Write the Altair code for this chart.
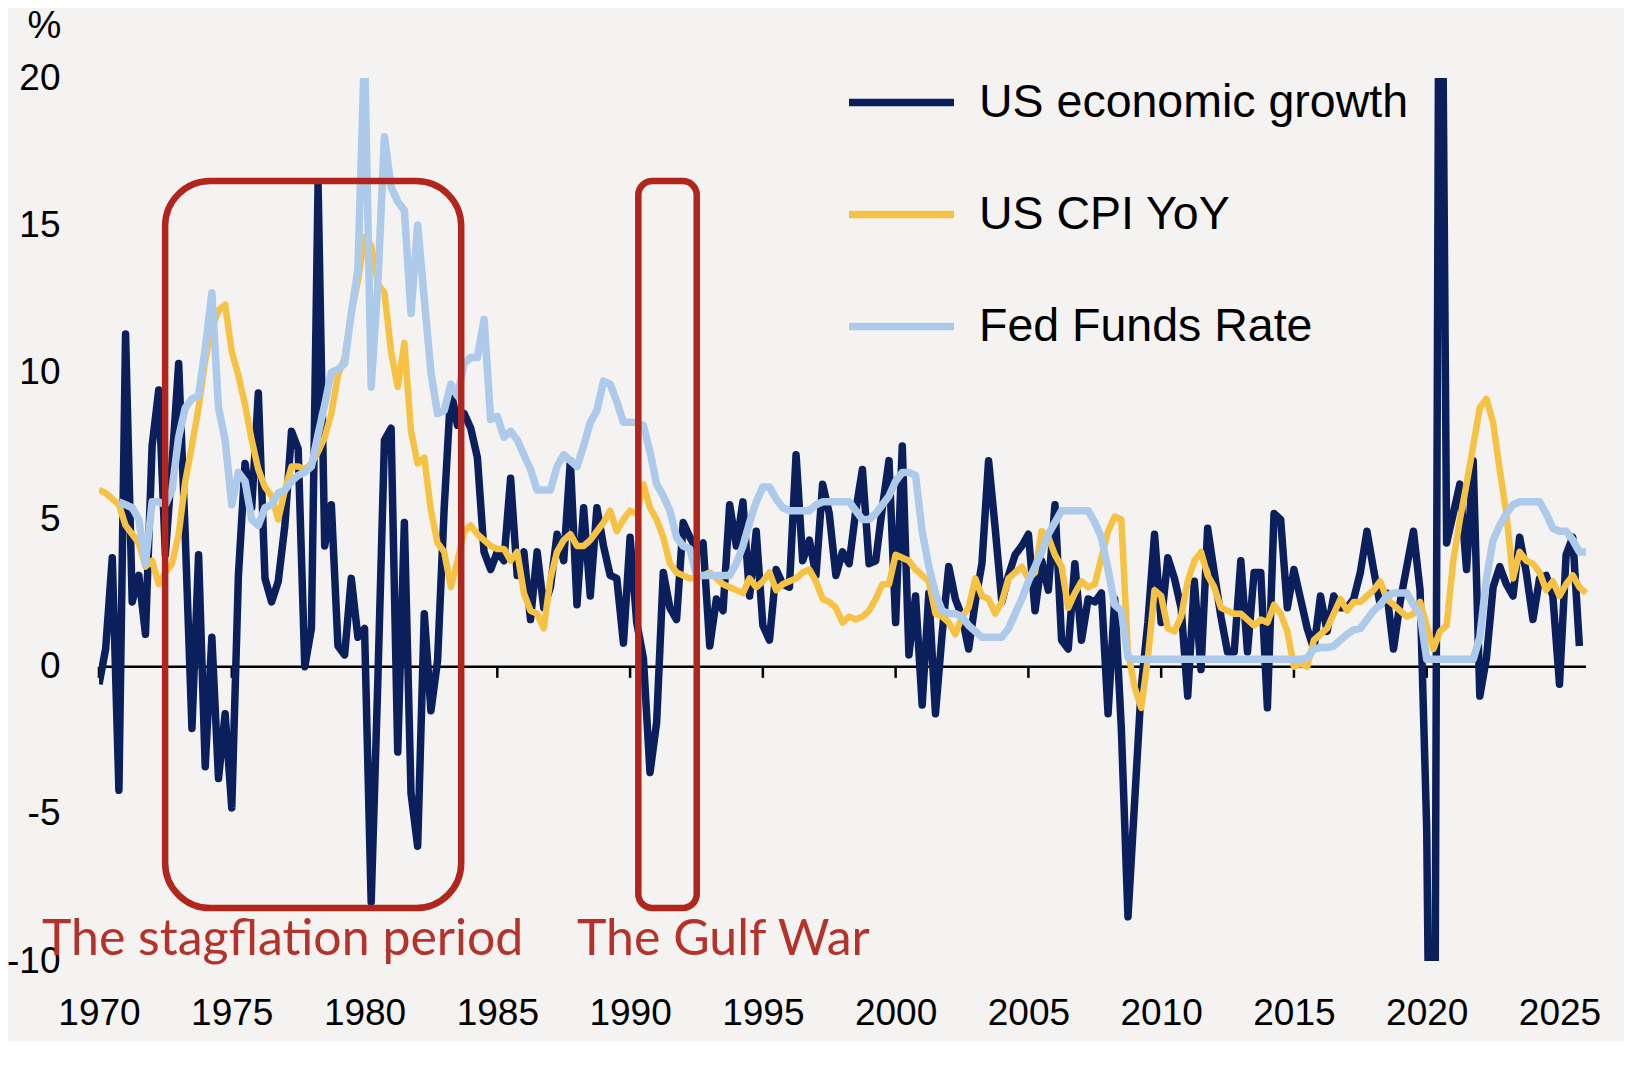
import altair as alt
import pandas as pd

SERIES = ["US economic growth", "US CPI YoY", "Fed Funds Rate"]
COLORS = ["#0B1F5C", "#F5C243", "#ADCAEA"]
START_YEAR = 1970

# Quarterly values, 1970Q1 onward (annualised real GDP growth, %)
growth = [
    -0.6, 0.6, 3.7, -4.2,
    11.3, 2.2, 3.1, 1.1,
    7.5, 9.4, 3.8, 6.9,
    10.3, 4.4, -2.1, 3.8,
    -3.4, 1.0, -3.8, -1.6,
    -4.8, 3.1, 6.9, 5.4,
    9.3, 3.0, 2.2, 2.9,
    4.8, 8.0, 7.4, 0.0,
    1.3, 16.4, 4.1, 5.5,
    0.7, 0.4, 3.0, 1.0,
    1.3, -8.0, -0.5, 7.7,
    8.1, -2.9, 4.9, -4.3,
    -6.1, 1.8, -1.5, 0.2,
    5.4, 9.4, 8.2, 8.6,
    8.1, 7.1, 3.9, 3.3,
    3.9, 3.6, 6.4, 3.1,
    3.9, 1.6, 3.9, 2.0,
    2.7, 4.5, 3.6, 7.0,
    2.1, 5.4, 2.4, 5.4,
    4.1, 3.1, 3.0, 0.8,
    4.4, 1.5, 0.3, -3.6,
    -1.9, 3.2, 2.0, 1.6,
    4.9, 4.4, 4.0, 4.2,
    0.7, 2.3, 1.9, 5.5,
    4.1, 5.6, 2.4, 4.6,
    1.4, 0.9, 3.3, 2.8,
    2.7, 7.2, 3.6, 4.3,
    3.1, 6.2, 5.2, 3.1,
    3.9, 3.5, 5.3, 6.7,
    3.5, 3.6, 5.4, 7.0,
    1.5, 7.5, 0.4, 2.4,
    -1.3, 2.5, -1.6, 1.1,
    3.4, 2.3, 1.7, 0.6,
    2.2, 3.5, 7.0, 4.7,
    2.2, 3.1, 3.8, 4.1,
    4.5, 1.9, 3.6, 2.6,
    5.5, 0.9, 0.6, 3.5,
    0.9, 2.3, 2.2, 2.5,
    -1.6, 2.3, -2.1, -8.5,
    -4.6, -0.7, 1.5, 4.5,
    1.5, 3.7, 3.0, 2.0,
    -1.0, 2.9, -0.1, 4.7,
    3.2, 1.7, 0.5, 0.5,
    3.6, 0.5, 3.2, 3.2,
    -1.4, 5.2, 5.0, 2.0,
    3.3, 2.3, 1.3, 0.6,
    2.4, 1.2, 2.4, 2.0,
    2.0, 2.3, 3.2, 4.6,
    3.3, 2.1, 2.5, 0.6,
    2.2, 3.4, 4.6, 2.6,
    -5.5, -28.0, 34.8, 4.2,
    5.2, 6.2, 3.3, 7.0,
    -1.0, 0.3, 2.7, 3.4,
    2.8, 2.4, 4.4, 3.2,
    1.6, 3.0, 3.1, 2.4,
    -0.6, 3.8, 4.4, 0.7,
]

# CPI YoY (%), 1970Q1 onward
cpi = [
    6.0, 5.9, 5.7, 5.5,
    4.8, 4.5, 4.2, 3.4,
    3.6, 2.8, 3.2, 3.5,
    4.5, 6.3, 7.5, 8.8,
    10.4, 11.5, 12.1, 12.3,
    10.7, 9.9, 8.9, 7.7,
    6.7, 6.1, 5.8, 5.0,
    6.0, 6.8, 6.8, 6.7,
    6.9, 7.3, 7.8, 8.6,
    9.9, 10.5, 12.0, 13.1,
    14.6, 14.3, 13.0, 12.7,
    10.7, 9.5, 11.0, 8.0,
    6.9, 7.1, 5.3, 4.2,
    3.9, 2.7, 3.6, 4.6,
    4.8, 4.5, 4.3, 4.1,
    4.0, 4.0, 3.6, 3.9,
    2.5, 1.9, 1.8, 1.3,
    3.0, 3.9, 4.3, 4.5,
    4.1, 4.1, 4.3, 4.6,
    4.9, 5.3, 4.6, 5.0,
    5.3, 5.2, 6.2, 5.4,
    5.0, 4.4, 3.5, 3.2,
    3.1, 3.0, 3.0, 3.1,
    3.2, 3.0, 2.8, 2.7,
    2.6, 2.5, 3.0, 2.7,
    2.9, 3.2, 2.6, 2.8,
    2.9, 3.0, 3.2, 3.3,
    2.9, 2.3, 2.2, 2.0,
    1.5, 1.7, 1.6, 1.7,
    1.9, 2.3, 2.8, 2.8,
    3.8, 3.7, 3.6, 3.3,
    3.1, 2.9, 1.8, 1.7,
    1.5, 1.1, 1.7, 2.0,
    3.0, 2.4, 2.3, 1.8,
    2.2, 3.0, 3.2, 3.4,
    3.0, 3.2, 4.6, 4.4,
    3.8, 3.4, 2.0, 2.5,
    2.9, 2.7, 2.8, 3.7,
    4.6, 5.1, 5.0, 0.5,
    -0.7, -1.4, 0.3, 2.6,
    2.4, 1.3, 1.2, 1.7,
    2.9, 3.6, 3.9, 3.1,
    2.7, 2.0, 1.9, 1.8,
    1.8, 1.6, 1.4, 1.6,
    1.5, 2.1, 1.8, 1.2,
    0.0, 0.1, 0.0, 0.9,
    1.1, 1.3, 1.8, 2.3,
    1.9, 2.2, 2.2, 2.4,
    2.6, 2.9, 2.3, 2.1,
    1.9, 1.7, 1.8, 2.2,
    1.4, 0.6, 1.2, 1.4,
    3.6, 5.0, 6.2, 7.5,
    8.8, 9.1, 8.3, 6.7,
    5.2, 3.0, 3.9, 3.6,
    3.5, 3.2, 2.6, 2.9,
    2.4, 2.8, 3.1, 2.7,
    2.5,
]

# Fed funds rate (%), starting 1970Q4
FED_FIRST_QUARTER = 3
fed = [
    5.6,
    5.5, 5.4, 5.0, 3.5,
    5.6, 5.6, 5.5, 6.0,
    7.8, 8.8, 9.1, 9.2,
    10.8, 12.7, 8.8, 7.7,
    5.5, 6.6, 6.3, 5.0,
    4.8, 5.4, 5.5, 5.9,
    6.0, 6.3, 6.5, 6.6,
    6.8, 7.9, 8.9, 10.0,
    10.1, 10.3, 12.0, 13.5,
    21.0, 9.5, 13.0, 18.0,
    16.3, 15.8, 15.5, 12.0,
    15.0, 12.5, 10.0, 8.6,
    8.7, 9.6, 9.2, 10.3,
    10.5, 10.5, 11.8, 8.4,
    8.5, 7.8, 8.0, 7.7,
    7.2, 6.7, 6.0, 6.0,
    6.0, 6.8, 7.2, 7.0,
    6.8, 7.5, 8.3, 8.7,
    9.7, 9.6, 9.0, 8.3,
    8.3, 8.3, 8.2, 7.3,
    6.2, 5.8, 5.3, 4.4,
    4.1, 4.0, 3.1, 3.1,
    3.1, 3.1, 3.1, 3.1,
    3.5, 4.1, 4.9, 5.6,
    6.1, 6.1, 5.7, 5.4,
    5.3, 5.3, 5.3, 5.3,
    5.5, 5.6, 5.6, 5.6,
    5.6, 5.6, 5.3, 5.0,
    5.0, 5.2, 5.5, 5.8,
    6.3, 6.6, 6.6, 6.5,
    4.6, 3.4, 2.5, 1.9,
    1.8, 1.8, 1.7, 1.4,
    1.2, 1.0, 1.0, 1.0,
    1.0, 1.3, 1.8, 2.3,
    2.9, 3.4, 3.9, 4.5,
    4.9, 5.3, 5.3, 5.3,
    5.3, 5.3, 4.9, 4.4,
    3.3, 2.1, 1.9, 0.3,
    0.25, 0.25, 0.25, 0.25,
    0.25, 0.25, 0.25, 0.25,
    0.25, 0.25, 0.25, 0.25,
    0.25, 0.25, 0.25, 0.25,
    0.25, 0.25, 0.25, 0.25,
    0.25, 0.25, 0.25, 0.25,
    0.25, 0.25, 0.3, 0.6,
    0.65, 0.65, 0.7, 0.9,
    1.1, 1.25, 1.3, 1.6,
    1.9, 2.1, 2.4, 2.5,
    2.5, 2.5, 2.1, 1.8,
    0.25, 0.25, 0.25, 0.25,
    0.25, 0.25, 0.25, 0.25,
    1.0, 3.0, 4.3, 4.8,
    5.2, 5.5, 5.6, 5.6,
    5.6, 5.6, 5.2, 4.7,
    4.6, 4.6, 4.3, 3.9,
    3.9,
]

Y_TICKS = [-10, -5, 0, 5, 10, 15, 20]
X_TICKS = [1970, 1975, 1980, 1985, 1990, 1995, 2000, 2005, 2010, 2015, 2020, 2025]

BOX_NAMES = ["The stagflation period", "The Gulf War"]
BOX_X1 = [1972.49, 1990.31]
BOX_X2 = [1983.64, 1992.51]
BOX_Y1 = [16.5, 16.5]
BOX_Y2 = [-8.2, -8.2]

NOTE_X = [1967.85, 1988.0]
NOTE_Y = [-9.8, -9.8]


def quarterly(values, name, first=0):
    rows = []
    for i, v in enumerate(values):
        rows.append({"t": START_YEAR + (first + i) / 4, "value": v, "series": name})
    return pd.DataFrame(rows)


df_growth = quarterly(growth, SERIES[0])
df_cpi = quarterly(cpi, SERIES[1])
df_fed = quarterly(fed, SERIES[2], FED_FIRST_QUARTER)

df_ticks = pd.DataFrame({"t": X_TICKS, "value": [0] * len(X_TICKS), "v2": [-0.38] * len(X_TICKS)})
df_zero = pd.DataFrame({"t": [1970.0], "t2": [2026.0], "value": [0]})
df_boxes = pd.DataFrame({"name": BOX_NAMES, "t": BOX_X1, "t2": BOX_X2, "value": BOX_Y1, "v2": BOX_Y2})
df_notes = pd.DataFrame({"name": BOX_NAMES, "t": NOTE_X, "value": NOTE_Y})

AXIS_FONT = "Liberation Sans"
RED = "#B0261C"

x_scale = alt.Scale(domain=[1970, 2026.3], nice=False, zero=False)
y_scale = alt.Scale(domain=[-10, 20], nice=False, zero=False)
color_scale = alt.Scale(domain=SERIES, range=COLORS)

x_axis = alt.Axis(
    values=X_TICKS, format="d", domain=False, ticks=False, tickSize=0, grid=False,
    labelFont=AXIS_FONT, labelFontSize=37, labelColor="black", labelPadding=34,
    labelFlush=False, labelOverlap=False, title="",
)
y_axis = alt.Axis(
    values=Y_TICKS, labelExpr="'' + datum.value", domain=False, ticks=False, tickSize=0,
    grid=False, labelFont=AXIS_FONT, labelFontSize=37, labelColor="black", labelPadding=39,
    title="%", titleAngle=0, titleX=-55, titleY=-52, titleFont=AXIS_FONT, titleFontSize=38,
    titleFontWeight="normal", titleColor="black", titleAlign="center", titleBaseline="middle",
)
legend = alt.Legend(
    orient="none", legendX=746, legendY=-32, title=None, symbolType="stroke",
    symbolSize=11025, symbolStrokeWidth=7.5, labelFont=AXIS_FONT, labelFontSize=46.5,
    labelColor="black", labelOffset=21, rowPadding=32, labelLimit=0, padding=0,
)

X = alt.X("t:Q", scale=x_scale, axis=x_axis)
Y = alt.Y("value:Q", scale=y_scale, axis=y_axis)

ticks = alt.Chart(df_ticks).mark_rule(color="black", strokeWidth=2.5).encode(
    x=X, y=Y, y2="v2:Q",
)
zero = alt.Chart(df_zero).mark_rule(color="black", strokeWidth=2.5).encode(
    x=X, x2="t2:Q", y=Y,
)


def line(df, width, show_legend=False):
    return alt.Chart(df).mark_line(strokeWidth=width, clip=True, strokeJoin="round").encode(
        x=X, y=Y,
        color=alt.Color("series:N", scale=color_scale, legend=legend if show_legend else None),
    )


l_growth = line(df_growth, 7.5, show_legend=True)
l_cpi = line(df_cpi, 6.5)
l_fed = line(df_fed, 7.5)

box_stag = alt.Chart(df_boxes.iloc[[0]]).mark_rect(
    fillOpacity=0, stroke=RED, strokeWidth=6.5, cornerRadius=45
).encode(x=X, x2="t2:Q", y=Y, y2="v2:Q")
box_gulf = alt.Chart(df_boxes.iloc[[1]]).mark_rect(
    fillOpacity=0, stroke=RED, strokeWidth=6.5, cornerRadius=14
).encode(x=X, x2="t2:Q", y=Y, y2="v2:Q")
notes = alt.Chart(df_notes).mark_text(
    align="left", baseline="alphabetic", font="Lato", fontSize=50, color="#B5322A"
).encode(x=X, y=Y, text="name:N")

chart = alt.layer(
    ticks, zero, l_growth, l_cpi, l_fed, box_stag, box_gulf, notes
).properties(
    width=1495, height=883,
    autosize=alt.AutoSizeParams(type="none"),
    padding={"left": 91, "top": 70, "right": 30, "bottom": 80},
    background="#F4F3F2",
).configure_view(stroke="transparent")

chart.save("out.html", embed_options={"renderer": "svg", "actions": False})
